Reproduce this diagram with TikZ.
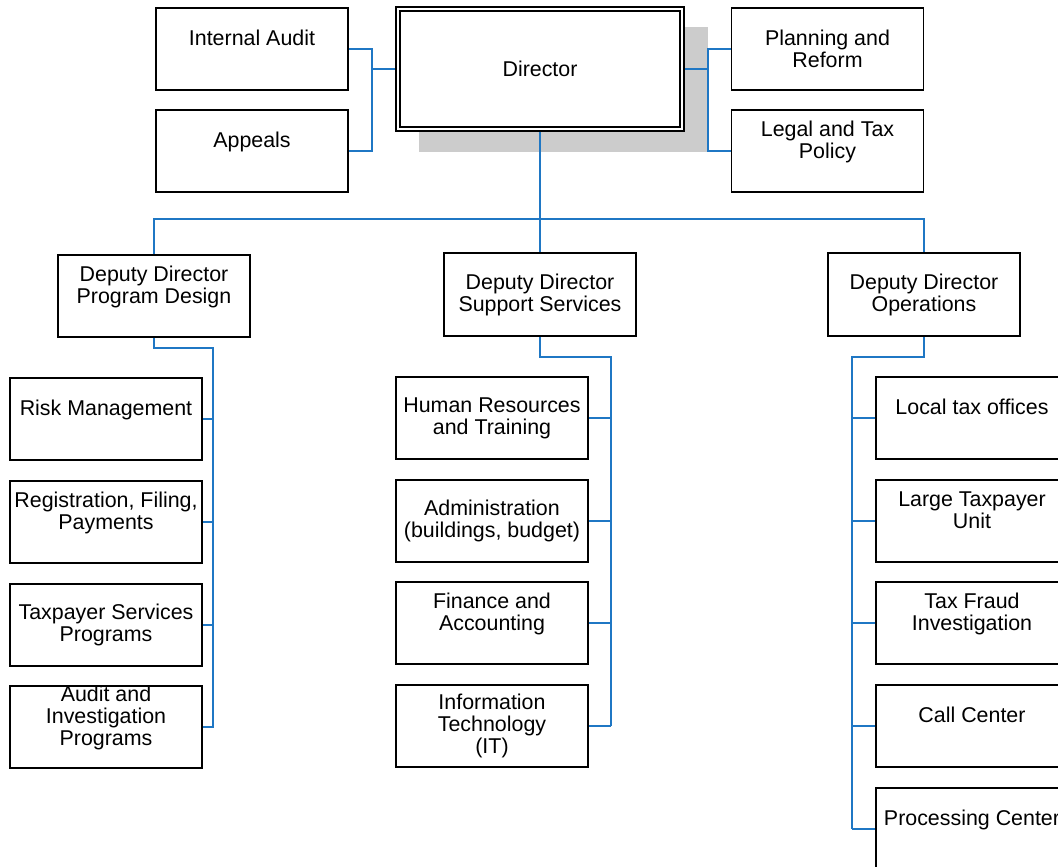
\documentclass[tikz,border=0pt]{standalone}
\usepackage{fontspec}
\setmainfont{Liberation Sans}
\definecolor{conblue}{RGB}{31,119,196}
\definecolor{shadowgray}{RGB}{204,204,204}
\begin{document}
\begin{tikzpicture}[x=1pt,y=-1pt,
  box/.style={draw, line width=1.5pt, minimum width=192pt, minimum height=82pt, inner sep=0pt,
    align=center, fill=white, font=\fontsize{21.4}{22}\selectfont},
  frame/.style={draw, line width=2pt, inner sep=0pt},
  conn/.style={draw=conblue, line width=1.6pt},
  thick conn/.style={draw=conblue, line width=2.4pt}]
\clip (0,0) rectangle (1058,867);
\fill[white] (0,0) rectangle (1058,867);
% top row
\fill[shadowgray] (419,27) rectangle (708,152);
\node[box, line width=2pt, minimum width=288pt, minimum height=123pt] (dir) at (540,69) {Director};
\node[frame, minimum width=280pt, minimum height=115pt] (dirin) at (dir.center) {};
\node[box] (ia) at (252,49) {Internal Audit\\\mbox{}};
\node[box] (ap) at (252,151) {Appeals\\\mbox{}};
\node[box] (pr) at (827.5,49) {Planning and\\Reform};
\node[box] (lt) at (827.5,151) {Legal and Tax\\Policy\\\mbox{}};
% deputies
\node[box] (dpd) at (154,296) {Deputy Director\\Program Design\\\mbox{}};
\node[box, minimum height=83pt] (dss) at (540,294.5) {Deputy Director\\Support Services};
\node[box, minimum height=83pt] (dop) at (924,294.5) {Deputy Director\\Operations};
% left column
\node[box] (l1) at (106,419) {Risk Management\\\mbox{}};
\node[box] (l2) at (106,522) {Registration, Filing,\\Payments\\\mbox{}};
\node[box] (l3) at (106,625) {Taxpayer Services\\Programs};
\node[box] (l4) at (106,727) {Audit and\\Investigation\\Programs\\\mbox{}};
% middle column
\node[box] (m1) at (492,418) {Human Resources\\and Training};
\node[box] (m2) at (492,521) {Administration\\(buildings, budget)};
\node[box] (m3) at (492,623) {Finance and\\Accounting\\\mbox{}};
\node[box] (m4) at (492,726) {Information\\Technology\\(IT)};
% right column
\node[box] (r1) at (972,418) {Local tax offices\\\mbox{}};
\node[box] (r2) at (972,521) {Large Taxpayer\\Unit\\\mbox{}};
\node[box] (r3) at (972,623) {Tax Fraud\\Investigation\\\mbox{}};
\node[box] (r4) at (972,726) {Call Center\\\mbox{}};
\node[box] (r5) at (972,829) {Processing Center\\\mbox{}};
% bus coordinates
\coordinate (tl) at (372,69);
\coordinate (tr) at (708,69);
\coordinate (lb) at (213,0);
\coordinate (mb) at (611,0);
\coordinate (rb) at (852,0);
% top connectors
\draw[conn] (ia.east) -| (tl) |- (ap.east);
\draw[conn] (tl) -- (dir.west);
\draw[conn] (pr.west) -| (tr) |- (lt.west);
\draw[conn] (tr) -- (dir.east);
\draw[conn] (dir.south) -- (dss.north);
\draw[conn] (dpd.north) -- ++(0,-35) -| (dop.north);
% left branch
\draw[conn] (dpd.south) -- ++(0,10) -| (l4.east -| lb) -- (l4.east);
\foreach \n in {l1,l2,l3} \draw[conn] (\n.east) -- (\n.east -| lb);
% middle branch
\draw[thick conn] (dss.south) -- ++(0,20) -| (m4.east -| mb);
\draw[conn] (m4.east -| mb) -- (m4.east);
\foreach \n in {m1,m2,m3} \draw[conn] (\n.east) -- (\n.east -| mb);
% right branch
\draw[thick conn] (dop.south) -- ++(0,20) -| (r5.west -| rb);
\draw[conn] (r5.west -| rb) -- (r5.west);
\foreach \n in {r1,r2,r3,r4} \draw[conn] (\n.west) -- (\n.west -| rb);
\end{tikzpicture}
\end{document}
